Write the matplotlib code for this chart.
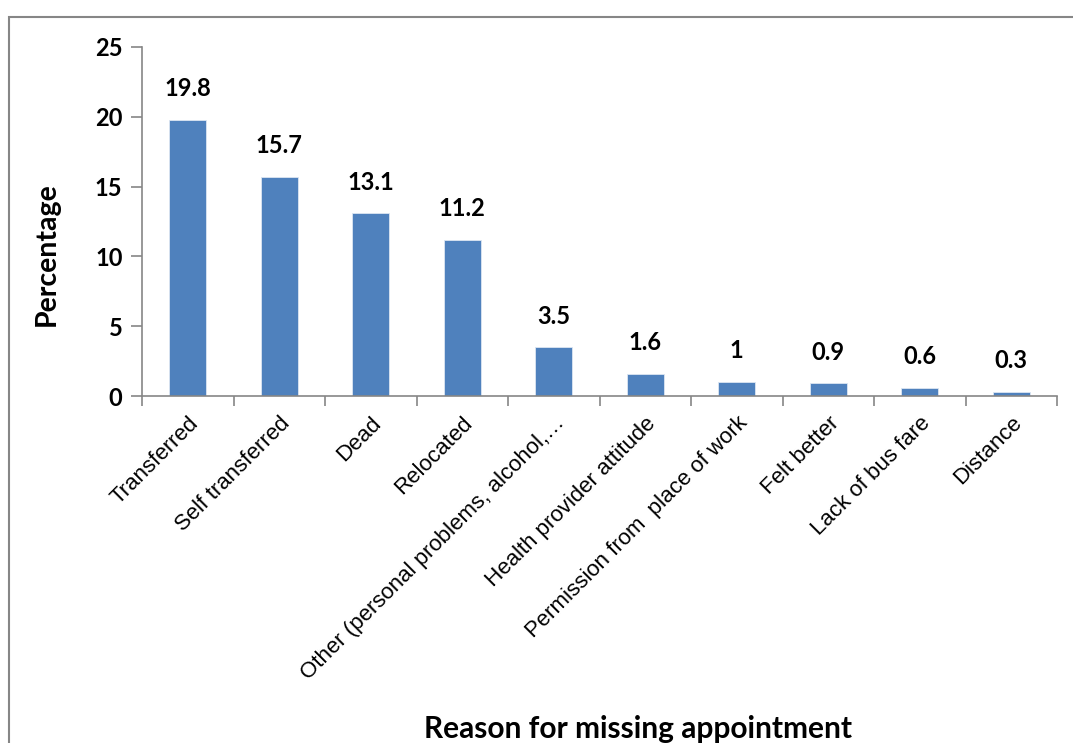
import matplotlib.pyplot as plt
from matplotlib.patches import Rectangle

reasons = ["Transferred", "Self transferred", "Dead", "Relocated",
           "Other (personal problems, alcohol,\u2026", "Health provider attitude",
           "Permission from  place of work", "Felt better", "Lack of bus fare",
           "Distance"]
percent = [19.8, 15.7, 13.1, 11.2, 3.5, 1.6, 1.0, 0.9, 0.6, 0.3]

bar_col = "#4F81BD"
axis_col = "#868686"
bold_font = "Lato"

fig = plt.figure(figsize=(10.73, 7.43), dpi=100)
fig.patches.append(Rectangle((9 / 1073, -0.1), 1.2, 1 - 17 / 743 + 0.1,
                             transform=fig.transFigure, fill=False,
                             edgecolor=axis_col, linewidth=1.5))

ax = fig.add_axes([142 / 1073, 1 - 396 / 743, (1057 - 142) / 1073, (396 - 47) / 743])
x = range(len(reasons))
ax.bar(x, percent, width=0.4, color=bar_col, edgecolor="#dce6f2", linewidth=0.6)

for xi, v in zip(x, percent):
    ax.text(xi, v + 1.4, f"{v:g}", ha="center", va="bottom",
            fontsize=17, fontweight="bold", family=bold_font)

ax.set_xlim(-0.5, len(reasons) - 0.5)
ax.set_ylim(0, 25)
ax.set_yticks(range(0, 26, 5))
for lbl in ax.get_yticklabels():
    lbl.set_fontsize(17)
    lbl.set_fontweight("bold")
    lbl.set_family(bold_font)

ax.set_xticks(list(x))
ax.set_xticklabels(reasons, rotation=45, ha="right", rotation_mode="anchor",
                   fontsize=16, family="Liberation Sans")
ax.set_xticks([i - 0.5 for i in range(len(reasons) + 1)], minor=True)
ax.tick_params(axis="x", which="major", length=0, pad=12)
ax.tick_params(axis="x", which="minor", length=7, color=axis_col, width=1.2)
ax.tick_params(axis="y", length=8, color=axis_col, width=1.2, pad=6)

for side in ("top", "right"):
    ax.spines[side].set_visible(False)
for side in ("left", "bottom"):
    ax.spines[side].set_color(axis_col)
    ax.spines[side].set_linewidth(1.2)

ax.set_ylabel("Percentage", fontsize=20.5, fontweight="bold", family=bold_font,
              va="center")
ax.yaxis.set_label_coords(-0.104, 0.407)
fig.text(638 / 1073, 1 - 729 / 743, "Reason for missing appointment", ha="center",
         va="center", fontsize=21.5, fontweight="bold", family=bold_font)

fig.savefig("out.png", dpi=100)
